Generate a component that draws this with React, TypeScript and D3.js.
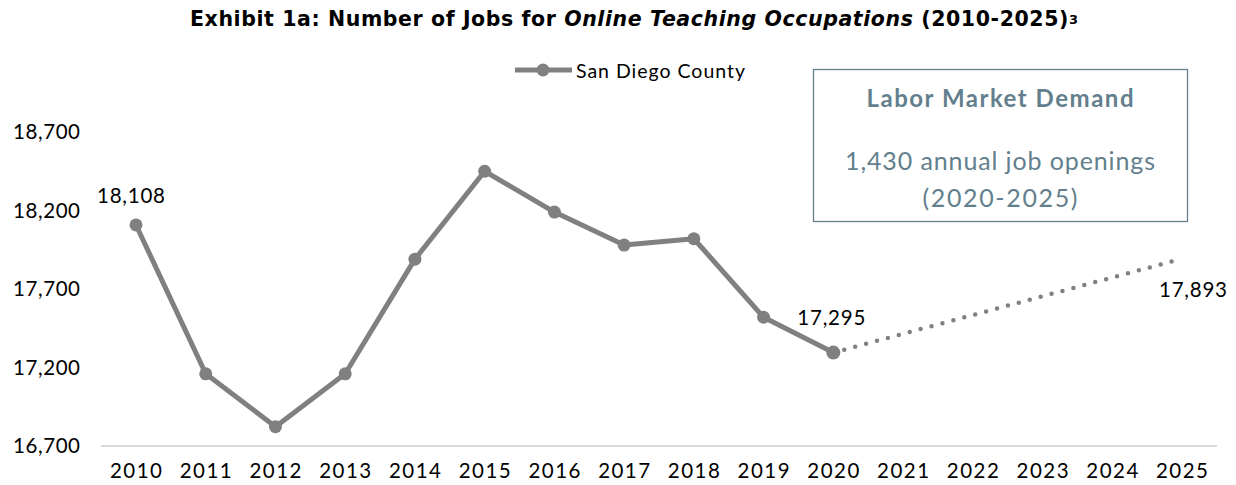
import React from "react";
import * as d3 from "d3";

const years = ["2010","2011","2012","2013","2014","2015","2016","2017","2018","2019","2020","2021","2022","2023","2024","2025"];
const histYears = ["2010","2011","2012","2013","2014","2015","2016","2017","2018","2019","2020"];
const histValues = [18108, 17160, 16823, 17160, 17890, 18450, 18190, 17980, 18020, 17520, 17295];
const forecastYears = ["2020", "2025"];
const forecastValues = [17295, 17893];
const yTicks = [16700, 17200, 17700, 18200, 18700];
const labeled = [
  { year: "2010", value: 18108, dx: -5, dy: -22 },
  { year: "2020", value: 17295, dx: -2, dy: -28 },
  { year: "2025", value: 17893, dx: 11, dy: 38 },
];

const W = 1236, H = 485;
const FONT = "Lato, 'Open Sans', sans-serif";
const GRAY = "#808080";
const BLUE = "#637f8d";

export default function App() {
  const x = d3.scalePoint<string>().domain(years).range([136, 1182]);
  const y = d3.scaleLinear().domain([16700, 18700]).range([446, 132]);
  const fmt = d3.format(",");

  const line = d3.line<number>()
    .x((_, i) => x(histYears[i])!)
    .y((d) => y(d));
  const fline = d3.line<number>()
    .x((_, i) => x(forecastYears[i])!)
    .y((d) => y(d));

  return (
    <svg width={W} height={H} style={{ position: "absolute", left: 0, top: 0, background: "#fff" }} fontFamily={FONT}>
      <text x={190} y={26} fontFamily="'DejaVu Sans', sans-serif" fontSize={20.5} fontWeight={700} fill="#000" textLength={888} lengthAdjust="spacing">
        <tspan>Exhibit 1a: Number of Jobs for </tspan>
        <tspan fontStyle="italic">Online Teaching Occupations</tspan>
        <tspan> (2010-2025)</tspan>
        <tspan fontSize={13} dy={-2}>3</tspan>
      </text>

      {/* legend */}
      <line x1={515} x2={572} y1={70} y2={70} stroke={GRAY} strokeWidth={5} />
      <circle cx={543} cy={70} r={6.5} fill={GRAY} />
      <text x={576} y={78} fontSize={19.5} fill="#000" textLength={169} lengthAdjust="spacing">San Diego County</text>

      {/* box */}
      <rect x={813.5} y={69.5} width={374} height={152} fill="#fff" stroke={BLUE} strokeWidth={1.3} />
      <text x={1000} y={107} textAnchor="middle" fontSize={24} fontWeight={700} fill={BLUE} textLength={267} lengthAdjust="spacing">Labor Market Demand</text>
      <text x={1000} y={170} textAnchor="middle" fontSize={25} fill={BLUE} textLength={310} lengthAdjust="spacing">1,430 annual job openings</text>
      <text x={1000} y={207} textAnchor="middle" fontSize={25} fill={BLUE} textLength={155} lengthAdjust="spacing">(2020-2025)</text>

      {/* y ticks */}
      {yTicks.map((t) => (
        <text key={t} x={80} y={y(t)} dy="0.35em" textAnchor="end" fontSize={20.5} fill="#000" textLength={67} lengthAdjust="spacing">{fmt(t)}</text>
      ))}

      {/* x axis */}
      <line x1={101} x2={1217} y1={446} y2={446} stroke="#d9d9d9" strokeWidth={2} />
      {years.map((yr) => (
        <text key={yr} x={x(yr)} y={478} textAnchor="middle" fontSize={20.5} fill="#000" textLength={52} lengthAdjust="spacing">{yr}</text>
      ))}

      {/* forecast dotted */}
      <path d={fline(forecastValues) || ""} fill="none" stroke={GRAY} strokeWidth={4.5} strokeLinecap="round" strokeDasharray="0 11.3" />

      {/* history line */}
      <path d={line(histValues) || ""} fill="none" stroke={GRAY} strokeWidth={5} strokeLinejoin="round" />
      {histValues.map((v, i) => (
        <circle key={i} cx={x(histYears[i])} cy={y(v)} r={i === histValues.length - 1 ? 7 : 6.5} fill={GRAY} />
      ))}

      {labeled.map((l) => (
        <text key={l.year} x={x(l.year)! + l.dx} y={y(l.value) + l.dy} textAnchor="middle" fontSize={20.5} fill="#000" textLength={68} lengthAdjust="spacing">{fmt(l.value)}</text>
      ))}
    </svg>
  );
}
